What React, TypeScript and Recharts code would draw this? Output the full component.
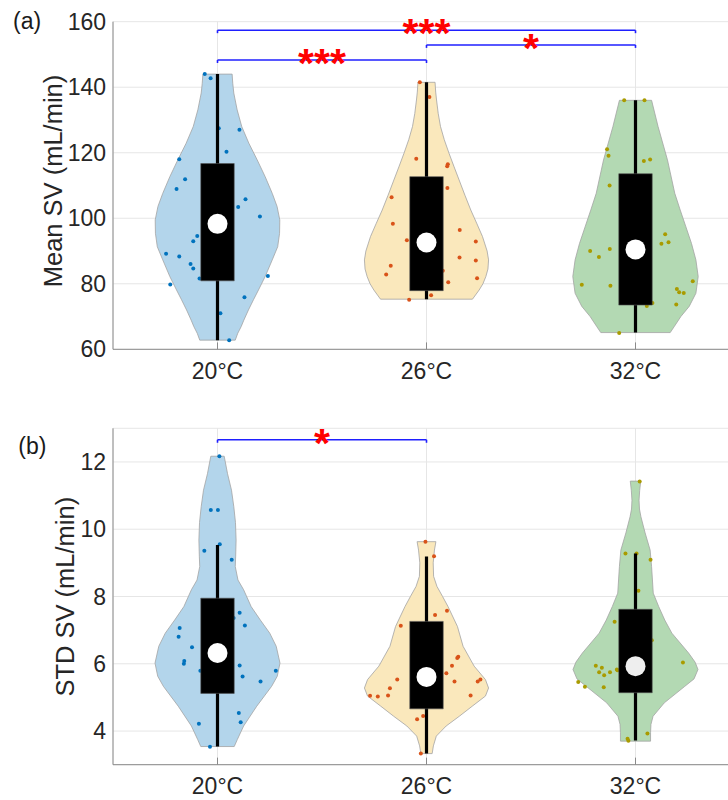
import React from 'react'
import {
    ComposedChart,
    Scatter,
    XAxis,
    YAxis,
    CartesianGrid,
    ReferenceArea,
    ReferenceLine,
    ReferenceDot,
} from 'recharts'

const CATEGORIES = ['20°C', '26°C', '32°C']

// panel (a): mean SV per subject, with the horizontal jitter
const MEAN_20 = [144.0, 142.7, 127.5, 127.0, 120.3, 118.0, 111.9, 108.9, 105.8, 103.4, 100.5, 94.6, 93.0, 89.2, 88.3, 86.0, 84.7, 81.6, 82.4, 79.8, 75.9, 71.0, 62.8]
const MEAN_20_JITTER = [-0.061, -0.033, 0.006, 0.105, 0.043, -0.183, -0.155, -0.196, 0.134, 0.099, 0.203, -0.097, -0.116, -0.246, -0.183, -0.129, -0.116, -0.086, 0.241, -0.226, 0.129, 0.014, 0.056]
const MEAN_26 = [141.5, 137.0, 118.2, 116.5, 115.9, 109.2, 106.4, 98.3, 96.4, 93.3, 92.9, 85.5, 88.0, 87.1, 82.8, 81.7, 80.5, 84.0, 76.5, 75.1]
const MEAN_26_JITTER = [-0.032, 0.014, -0.049, 0.102, 0.099, 0.1, -0.167, -0.161, 0.159, -0.094, 0.236, -0.171, 0.158, 0.236, -0.193, 0.242, 0.104, 0.078, 0.022, -0.083]
const MEAN_32 = [136.0, 136.0, 121.1, 119.1, 117.5, 117.9, 110.0, 95.1, 92.2, 92.7, 90.0, 90.6, 88.2, 79.7, 79.4, 80.8, 78.4, 77.4, 77.2, 73.7, 73.2, 74.1, 65.0]
const MEAN_32_JITTER = [-0.054, 0.043, -0.136, -0.129, 0.04, 0.07, -0.124, 0.142, 0.124, 0.158, -0.217, -0.123, -0.175, -0.257, -0.12, 0.274, 0.198, 0.209, 0.231, 0.195, 0.054, 0.081, -0.078]

// violin outlines: [value, half width in category units], top to bottom
const MEAN_VIOLIN_20 = [[144.0, 0.07], [141.2, 0.073], [138.2, 0.078], [133.1, 0.094], [128.0, 0.116], [122.9, 0.15], [117.8, 0.19], [112.7, 0.228], [107.6, 0.262], [103.6, 0.285], [99.5, 0.298], [95.4, 0.297], [91.3, 0.288], [87.3, 0.262], [82.2, 0.228], [78.1, 0.196], [75.1, 0.172], [72.0, 0.148], [68.9, 0.126], [66.9, 0.113], [64.9, 0.097], [62.8, 0.085]]
const MEAN_VIOLIN_26 = [[141.5, 0.041], [138.5, 0.044], [136.1, 0.048], [132.0, 0.056], [128.0, 0.067], [124.0, 0.085], [119.8, 0.108], [115.7, 0.132], [111.7, 0.156], [107.0, 0.184], [102.5, 0.212], [98.5, 0.24], [94.4, 0.268], [90.0, 0.29], [87.3, 0.297], [84.5, 0.294], [82.2, 0.284], [80.0, 0.27], [78.1, 0.252], [75.3, 0.22]]
const MEAN_VIOLIN_32 = [[136.0, 0.077], [128.0, 0.108], [117.8, 0.153], [107.6, 0.188], [102.5, 0.214], [97.4, 0.241], [92.3, 0.268], [87.3, 0.289], [82.2, 0.3], [77.1, 0.289], [73.1, 0.257], [70.0, 0.217], [66.9, 0.185], [65.1, 0.166]]

// box stats: [min, q1, median, q3, max]
const MEAN_BOX = [[62.8, 80.9, 98.3, 116.7, 144.0], [75.3, 77.9, 92.6, 112.7, 141.5], [65.1, 73.5, 90.5, 113.6, 136.0]]
const MEAN_TICKS = [60, 80, 100, 120, 140, 160]
const MEAN_BRACKETS = [
    { from: 1, to: 3, y: 157.4, stars: '***' },
    { from: 2, to: 3, y: 152.9, stars: '*' },
    { from: 1, to: 2, y: 148.3, stars: '***' },
]

// panel (b): STD SV
const STD_20 = [12.17, 10.57, 10.57, 9.36, 9.55, 9.09, 7.52, 7.36, 7.14, 7.06, 6.8, 6.49, 6.08, 6.0, 5.95, 5.79, 5.79, 5.62, 5.47, 4.54, 4.22, 4.26, 3.53]
const STD_20_JITTER = [0.009, -0.032, 0.002, -0.063, 0.011, 0.068, 0.106, 0.077, 0.131, -0.181, -0.186, -0.122, -0.159, -0.161, 0.106, -0.082, 0.279, 0.12, 0.206, 0.102, -0.089, 0.111, -0.036]
const STD_26 = [9.63, 9.2, 7.58, 7.45, 7.13, 6.21, 6.17, 5.94, 5.72, 5.53, 5.47, 5.53, 5.47, 5.27, 5.05, 5.03, 5.06, 5.06, 4.35, 4.45, 3.33]
const STD_26_JITTER = [-0.005, 0.036, 0.098, 0.041, -0.123, 0.152, 0.147, 0.122, 0.095, -0.14, 0.134, 0.258, 0.245, -0.175, -0.27, -0.233, -0.184, 0.211, -0.045, -0.016, -0.027]
const STD_32 = [11.42, 9.28, 9.28, 9.09, 8.17, 7.25, 6.04, 5.94, 5.88, 5.83, 5.75, 5.75, 5.66, 5.46, 5.32, 5.3, 3.93, 3.77, 3.71, 5.81, 6.7]
const STD_32_JITTER = [0.02, -0.048, 0.005, 0.072, 0.014, -0.1, 0.227, -0.19, -0.161, -0.089, -0.174, -0.122, -0.15, -0.274, -0.242, -0.152, 0.057, -0.038, -0.034, -0.086, 0.078]

const STD_VIOLIN_20 = [[12.17, 0.032], [11.65, 0.048], [11.16, 0.067], [10.67, 0.078], [10.2, 0.086], [9.68, 0.089], [9.2, 0.087], [8.89, 0.085], [8.49, 0.098], [8.2, 0.125], [7.7, 0.161], [7.3, 0.205], [6.91, 0.25], [6.52, 0.281], [6.02, 0.299], [5.63, 0.286], [5.33, 0.259], [4.74, 0.188], [4.15, 0.125], [3.75, 0.095], [3.54, 0.08]]
const STD_VIOLIN_26 = [[9.63, 0.045], [9.38, 0.038], [9.0, 0.032], [8.6, 0.034], [8.3, 0.05], [8.0, 0.077], [7.7, 0.103], [7.11, 0.148], [6.52, 0.175], [5.93, 0.228], [5.53, 0.282], [5.28, 0.297], [5.04, 0.282], [4.74, 0.219], [4.44, 0.157], [4.15, 0.094], [3.85, 0.047], [3.56, 0.033], [3.33, 0.027]]
const STD_VIOLIN_32 = [[11.43, 0.025], [11.15, 0.02], [10.86, 0.017], [10.6, 0.019], [10.37, 0.026], [9.89, 0.046], [9.38, 0.07], [8.89, 0.077], [8.1, 0.085], [7.7, 0.111], [7.3, 0.14], [6.91, 0.174], [6.32, 0.254], [6.05, 0.285], [5.83, 0.299], [5.55, 0.28], [5.33, 0.236], [4.84, 0.138], [4.44, 0.084], [4.2, 0.074], [3.95, 0.072], [3.7, 0.072]]

const STD_BOX = [[3.54, 5.12, 6.32, 7.95, 9.53], [3.33, 4.66, 5.61, 7.26, 9.19], [3.72, 5.14, 5.93, 7.62, 9.28]]
const STD_TICKS = [4, 6, 8, 10, 12]
const STD_BRACKETS = [{ from: 1, to: 2, y: 12.66, stars: '*' }]

const VIOLIN_FILLS = ['#B3D5EB', '#FAE8BC', '#B3D9B3']
const DOT_COLORS = ['#0072BD', '#D95319', '#A99B00']
const AXIS_COLOR = '#8a8a8a'
const TEXT_COLOR = '#262626'
const FONT = '"Liberation Sans", Arial, Helvetica, sans-serif'
const BOX_HALF = 0.08

const NoDot = () => <g />

const makeDot = (color: string) => (p: any) => (
    <circle cx={p.cx} cy={p.cy} r={2} fill={color} />
)

const makeStars = (stars: string) => (p: any) => (
    <text
        x={p.cx}
        y={p.cy + 17}
        textAnchor="middle"
        fontSize={41}
        fontWeight={700}
        fill="#ff0000"
        fontFamily={FONT}
    >
        {stars}
    </text>
)

function outline(cat: number, rows: number[][]) {
    const left = rows.map(([v, hw]) => ({ x: cat - hw, y: v }))
    const right = rows
        .slice()
        .reverse()
        .map(([v, hw]) => ({ x: cat + hw, y: v }))
    return [...left, ...right]
}

function jittered(cat: number, values: number[], jitter: number[]) {
    return values.map((v, k) => ({ x: cat + jitter[k], y: v }))
}

interface PanelProps {
    violins: number[][][]
    points: { x: number; y: number }[][]
    boxes: number[][]
    brackets: { from: number; to: number; y: number; stars: string }[]
    domain: [number, number]
    ticks: number[]
    marginTop: number
    marginBottom: number
    xAxisHeight: number
    tickLen: number
    bracketDrop: number
    medianFills: string[]
}

function Panel({
    violins,
    points,
    boxes,
    brackets,
    domain,
    ticks,
    marginTop,
    marginBottom,
    xAxisHeight,
    tickLen,
    bracketDrop,
    medianFills,
}: PanelProps) {
    return (
        <ComposedChart
            width={760}
            height={400}
            margin={{ top: marginTop, right: 20, bottom: marginBottom, left: 0 }}
        >
            <CartesianGrid stroke="#e6e6e6" strokeWidth={1} />

            <XAxis
                type="number"
                dataKey="x"
                domain={[0.5, 3.5]}
                ticks={[1, 2, 3]}
                allowDataOverflow
                tickFormatter={(v: number) => CATEGORIES[v - 1]}
                tick={{ fill: TEXT_COLOR, fontSize: 23, fontFamily: FONT }}
                tickLine={false}
                tickMargin={7}
                axisLine={{ stroke: AXIS_COLOR }}
                height={xAxisHeight}
                interval={0}
            />
            <YAxis
                type="number"
                dataKey="y"
                domain={domain}
                ticks={ticks}
                allowDataOverflow
                tick={{ fill: TEXT_COLOR, fontSize: 23, fontFamily: FONT }}
                tickLine={false}
                tickMargin={1}
                axisLine={{ stroke: AXIS_COLOR }}
                width={113}
            />

            {violins.map((rows, i) => (
                <Scatter
                    key={`violin-${i}`}
                    data={outline(i + 1, rows)}
                    shape={NoDot}
                    line={{ fill: VIOLIN_FILLS[i], stroke: '#a3a3a3', strokeWidth: 0.8 }}
                    lineJointType="linearClosed"
                    isAnimationActive={false}
                    zIndex={100}
                />
            ))}

            {points.map((pts, i) => (
                <Scatter
                    key={`pts-${i}`}
                    data={pts}
                    shape={makeDot(DOT_COLORS[i])}
                    isAnimationActive={false}
                    zIndex={200}
                />
            ))}

            {boxes.map(([lo, q1, , q3, hi], i) => (
                <React.Fragment key={`box-${i}`}>
                    <ReferenceLine
                        segment={[{ x: i + 1, y: lo }, { x: i + 1, y: hi }]}
                        stroke="#000"
                        strokeWidth={3.2}
                        zIndex={300}
                    />
                    <ReferenceArea
                        x1={i + 1 - BOX_HALF}
                        x2={i + 1 + BOX_HALF}
                        y1={q1}
                        y2={q3}
                        fill="#000"
                        fillOpacity={1}
                        stroke="#555"
                        strokeWidth={0.6}
                        zIndex={400}
                    />
                </React.Fragment>
            ))}

            {boxes.map(([, , med], i) => (
                <ReferenceDot
                    key={`med-${i}`}
                    x={i + 1}
                    y={med}
                    r={10}
                    fill={medianFills[i]}
                    stroke="none"
                    zIndex={450}
                />
            ))}

            {[1, 2, 3].map((c) => (
                <ReferenceLine
                    key={`xt-${c}`}
                    segment={[{ x: c, y: domain[0] }, { x: c, y: domain[0] + tickLen }]}
                    stroke={AXIS_COLOR}
                    strokeWidth={1}
                    zIndex={550}
                />
            ))}

            {brackets.map((b, i) => (
                <React.Fragment key={`br-${i}`}>
                    <ReferenceLine
                        segment={[{ x: b.from, y: b.y }, { x: b.to, y: b.y }]}
                        stroke="#1f1fff"
                        strokeWidth={1.6}
                        zIndex={600}
                    />
                    <ReferenceLine
                        segment={[{ x: b.from, y: b.y }, { x: b.from, y: b.y - bracketDrop }]}
                        stroke="#1f1fff"
                        strokeWidth={1.6}
                        zIndex={600}
                    />
                    <ReferenceLine
                        segment={[{ x: b.to, y: b.y }, { x: b.to, y: b.y - bracketDrop }]}
                        stroke="#1f1fff"
                        strokeWidth={1.6}
                        zIndex={600}
                    />
                    <ReferenceDot
                        x={(b.from + b.to) / 2}
                        y={b.y}
                        r={0}
                        shape={makeStars(b.stars)}
                        zIndex={700}
                    />
                </React.Fragment>
            ))}
        </ComposedChart>
    )
}

export default function App() {
    const meanPoints = [
        jittered(1, MEAN_20, MEAN_20_JITTER),
        jittered(2, MEAN_26, MEAN_26_JITTER),
        jittered(3, MEAN_32, MEAN_32_JITTER),
    ]
    const stdPoints = [
        jittered(1, STD_20, STD_20_JITTER),
        jittered(2, STD_26, STD_26_JITTER),
        jittered(3, STD_32, STD_32_JITTER),
    ]

    return (
        <div
            style={{
                position: 'absolute',
                left: 0,
                top: 0,
                width: 728,
                height: 800,
                overflow: 'hidden',
                background: '#fff',
                fontFamily: FONT,
            }}
        >
            <div style={{ position: 'absolute', left: 0, top: 0 }}>
                <Panel
                    violins={[MEAN_VIOLIN_20, MEAN_VIOLIN_26, MEAN_VIOLIN_32]}
                    points={meanPoints}
                    boxes={MEAN_BOX}
                    brackets={MEAN_BRACKETS}
                    domain={[60, 160]}
                    ticks={MEAN_TICKS}
                    marginTop={21.7}
                    marginBottom={0.7}
                    xAxisHeight={50}
                    tickLen={2.1}
                    bracketDrop={0.9}
                    medianFills={['#ffffff', '#ffffff', '#ffffff']}
                />
            </div>
            <div style={{ position: 'absolute', left: 0, top: 400 }}>
                <Panel
                    violins={[STD_VIOLIN_20, STD_VIOLIN_26, STD_VIOLIN_32]}
                    points={stdPoints}
                    boxes={STD_BOX}
                    brackets={STD_BRACKETS}
                    domain={[3, 13]}
                    ticks={STD_TICKS}
                    marginTop={28.3}
                    marginBottom={0.3}
                    xAxisHeight={35}
                    tickLen={0.21}
                    bracketDrop={0.09}
                    medianFills={['#ffffff', '#ffffff', '#eeeeee']}
                />
            </div>

            <svg
                width={728}
                height={800}
                style={{ position: 'absolute', left: 0, top: 0, pointerEvents: 'none' }}
                fontFamily={FONT}
            >
                <text x={13} y={28.5} fontSize={23} fill="#1a1a1a">(a)</text>
                <text
                    transform="translate(61.5,181) rotate(-90)"
                    textAnchor="middle"
                    fontSize={25.5}
                    fill={TEXT_COLOR}
                >
                    Mean SV (mL/min)
                </text>
                <text x={18.3} y={453.5} fontSize={23} fill="#1a1a1a">(b)</text>
                <text
                    transform="translate(74,596.7) rotate(-90)"
                    textAnchor="middle"
                    fontSize={25.5}
                    fill={TEXT_COLOR}
                >
                    STD SV (mL/min)
                </text>
            </svg>
        </div>
    )
}
